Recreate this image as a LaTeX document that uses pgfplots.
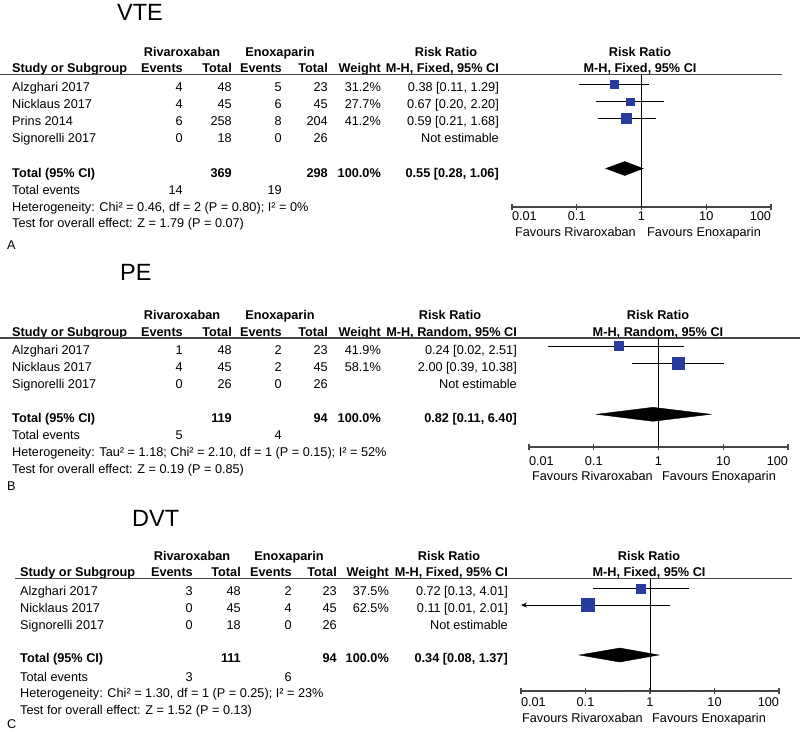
\documentclass[border=0pt]{standalone}
\usepackage{fontspec}
\setmainfont{Liberation Sans}
\usepackage{pgfplots}
\pgfplotsset{compat=1.18}
\usetikzlibrary{arrows.meta}
\definecolor{rmblue}{RGB}{40,60,160}
\definecolor{rulegray}{RGB}{70,70,70}
\newcommand\fs{\fontsize{12.7}{14}\selectfont}
\newcommand\TL[3]{\node[anchor=base west,inner sep=0pt] at (#1pt,-#2pt) {#3};}
\newcommand\TR[3]{\node[anchor=base east,inner sep=0pt] at (#1pt,-#2pt) {#3};}
\newcommand\TC[3]{\node[anchor=base,inner sep=0pt] at (#1pt,-#2pt) {#3};}
\pgfplotsset{fplot/.style={scale only axis, xmin=0.01, xmax=100, clip=false,
  axis x line*=bottom, hide y axis,
  xtick={0.01,0.1,1,10,100}, xticklabels={\rlap{0.01},0.1,1,10,\llap{100}},
  minor xtick={}, tick align=center, major tick length=6pt,
  axis line style={line width=1.2pt, color=rulegray},
  every tick/.style={line width=1.2pt, color=rulegray},
  xticklabel style={anchor=base, inner sep=0pt, font=\fs},
  xticklabel shift=0pt}}
\begin{document}
\begin{tikzpicture}[every node/.style={font=\fs, text=black}]
\useasboundingbox (0,0) rectangle (800pt,-731pt);

% ================= Panel A: VTE =================
\node[anchor=base west,inner sep=0pt,font=\fontsize{23.5}{26}\selectfont] at (117pt,-20pt) {VTE};
\TC{182}{56.5}{\bfseries Rivaroxaban}
\TC{280}{56.5}{\bfseries Enoxaparin}
\TC{446}{56.5}{\bfseries Risk Ratio}
\TC{640}{56.5}{\bfseries Risk Ratio}
\TL{12}{72.5}{\bfseries Study or Subgroup}
\TR{183}{72.5}{\bfseries Events}
\TR{232}{72.5}{\bfseries Total}
\TR{282}{72.5}{\bfseries Events}
\TR{328}{72.5}{\bfseries Total}
\TR{381}{72.5}{\bfseries Weight}
\TR{499}{72.5}{\bfseries M-H, Fixed, 95\% CI}
\TC{640}{72.5}{\bfseries M-H, Fixed, 95\% CI}
\draw[rulegray, line width=1.4pt] (0pt,-74.5pt) -- (782pt,-74.5pt);
\TL{12}{91.5}{Alzghari 2017}\TR{183}{91.5}{4}\TR{232}{91.5}{48}\TR{282}{91.5}{5}\TR{328}{91.5}{23}\TR{381}{91.5}{31.2\%}\TR{499}{91.5}{0.38 [0.11, 1.29]}
\TL{12}{108.5}{Nicklaus 2017}\TR{183}{108.5}{4}\TR{232}{108.5}{45}\TR{282}{108.5}{6}\TR{328}{108.5}{45}\TR{381}{108.5}{27.7\%}\TR{499}{108.5}{0.67 [0.20, 2.20]}
\TL{12}{125.5}{Prins 2014}\TR{183}{125.5}{6}\TR{232}{125.5}{258}\TR{282}{125.5}{8}\TR{328}{125.5}{204}\TR{381}{125.5}{41.2\%}\TR{499}{125.5}{0.59 [0.21, 1.68]}
\TL{12}{142.5}{Signorelli 2017}\TR{183}{142.5}{0}\TR{232}{142.5}{18}\TR{282}{142.5}{0}\TR{328}{142.5}{26}\TR{499}{142.5}{Not estimable}
\TL{12}{177}{\bfseries Total (95\% CI)}\TR{232}{177}{\bfseries 369}\TR{328}{177}{\bfseries 298}\TR{381}{177}{\bfseries 100.0\%}\TR{499}{177}{\bfseries 0.55 [0.28, 1.06]}
\TL{12}{194.5}{Total events}\TR{183}{194.5}{14}\TR{282}{194.5}{19}
\TL{12}{211.5}{Heterogeneity: Chi² = 0.46, df = 2 (P = 0.80); I² = 0\%}
\TL{12}{227.5}{Test for overall effect: Z = 1.79 (P = 0.07)}
\TL{7}{249}{A}
\TR{636}{236.5}{Favours Rivaroxaban}
\TL{647}{236.5}{Favours Enoxaparin}

\begin{semilogxaxis}[fplot, at={(512pt,-207pt)}, anchor=south west, width=259pt, height=132.5pt,
  ymin=-207, ymax=-74.5, xticklabel style={yshift=-10.5pt}]
\addplot[black, line width=0.9pt] coordinates {(1,-74.5) (1,-207)};
\addplot[black, line width=0.7pt] coordinates {(0.11,-84.3) (1.29,-84.3)};
\addplot[black, line width=0.7pt] coordinates {(0.20,-101.5) (2.20,-101.5)};
\addplot[black, line width=0.7pt] coordinates {(0.21,-118.3) (1.68,-118.3)};
\addplot[only marks, mark=square*, mark size=3.65pt, color=rmblue, mark options={draw=none}] coordinates {(0.38,-84.3)};
\addplot[only marks, mark=square*, mark size=3.65pt, color=rmblue, mark options={draw=none}] coordinates {(0.67,-101.5)};
\addplot[only marks, mark=square*, mark size=5pt, color=rmblue, mark options={draw=none}] coordinates {(0.59,-118.3)};
\addplot[fill=black, draw=black] coordinates {(0.28,-168.5) (0.55,-161.5) (1.06,-168.5) (0.55,-175.5)} -- cycle;
\end{semilogxaxis}

% ================= Panel B: PE =================
\node[anchor=base west,inner sep=0pt,font=\fontsize{23.5}{26}\selectfont] at (120pt,-280pt) {PE};
\TC{182}{319}{\bfseries Rivaroxaban}
\TC{280}{319}{\bfseries Enoxaparin}
\TC{450}{319}{\bfseries Risk Ratio}
\TC{658}{319}{\bfseries Risk Ratio}
\TL{12}{336}{\bfseries Study or Subgroup}
\TR{183}{336}{\bfseries Events}
\TR{232}{336}{\bfseries Total}
\TR{282}{336}{\bfseries Events}
\TR{328}{336}{\bfseries Total}
\TR{381}{336}{\bfseries Weight}
\TR{517}{336}{\bfseries M-H, Random, 95\% CI}
\TC{658}{336}{\bfseries M-H, Random, 95\% CI}
\draw[rulegray, line width=1.4pt] (0pt,-338pt) -- (800pt,-338pt);
\TL{12}{354}{Alzghari 2017}\TR{183}{354}{1}\TR{232}{354}{48}\TR{282}{354}{2}\TR{328}{354}{23}\TR{381}{354}{41.9\%}\TR{517}{354}{0.24 [0.02, 2.51]}
\TL{12}{371}{Nicklaus 2017}\TR{183}{371}{4}\TR{232}{371}{45}\TR{282}{371}{2}\TR{328}{371}{45}\TR{381}{371}{58.1\%}\TR{517}{371}{2.00 [0.39, 10.38]}
\TL{12}{388}{Signorelli 2017}\TR{183}{388}{0}\TR{232}{388}{26}\TR{282}{388}{0}\TR{328}{388}{26}\TR{517}{388}{Not estimable}
\TL{12}{422}{\bfseries Total (95\% CI)}\TR{232}{422}{\bfseries 119}\TR{328}{422}{\bfseries 94}\TR{381}{422}{\bfseries 100.0\%}\TR{517}{422}{\bfseries 0.82 [0.11, 6.40]}
\TL{12}{439}{Total events}\TR{183}{439}{5}\TR{282}{439}{4}
\TL{12}{456}{Heterogeneity: Tau² = 1.18; Chi² = 2.10, df = 1 (P = 0.15); I² = 52\%}
\TL{12}{473}{Test for overall effect: Z = 0.19 (P = 0.85)}
\TL{7}{490}{B}
\TR{653}{480}{Favours Rivaroxaban}
\TL{662}{480}{Favours Enoxaparin}

\begin{semilogxaxis}[fplot, at={(529pt,-447pt)}, anchor=south west, width=259pt, height=109pt,
  ymin=-447, ymax=-338, xticklabel style={yshift=-15.5pt}]
\addplot[black, line width=0.9pt] coordinates {(1,-338) (1,-447)};
\addplot[black, line width=0.7pt] coordinates {(0.02,-346) (2.51,-346)};
\addplot[black, line width=0.7pt] coordinates {(0.39,-363.3) (10.38,-363.3)};
\addplot[only marks, mark=square*, mark size=4.5pt, color=rmblue, mark options={draw=none}] coordinates {(0.24,-346)};
\addplot[only marks, mark=square*, mark size=6.2pt, color=rmblue, mark options={draw=none}] coordinates {(2.00,-363.3)};
\addplot[fill=black, draw=black] coordinates {(0.11,-414.3) (0.82,-407.3) (6.40,-414.3) (0.82,-421.3)} -- cycle;
\end{semilogxaxis}

% ================= Panel C: DVT =================
\node[anchor=base west,inner sep=0pt,font=\fontsize{23.5}{26}\selectfont] at (132pt,-526pt) {DVT};
\TC{192}{560.5}{\bfseries Rivaroxaban}
\TC{289}{560.5}{\bfseries Enoxaparin}
\TC{449}{560.5}{\bfseries Risk Ratio}
\TC{649}{560.5}{\bfseries Risk Ratio}
\TL{20}{576}{\bfseries Study or Subgroup}
\TR{193}{576}{\bfseries Events}
\TR{241}{576}{\bfseries Total}
\TR{292}{576}{\bfseries Events}
\TR{337}{576}{\bfseries Total}
\TR{389}{576}{\bfseries Weight}
\TR{508}{576}{\bfseries M-H, Fixed, 95\% CI}
\TC{649}{576}{\bfseries M-H, Fixed, 95\% CI}
\draw[rulegray, line width=1.4pt] (15pt,-578.5pt) -- (792pt,-578.5pt);
\TL{20}{595}{Alzghari 2017}\TR{193}{595}{3}\TR{241}{595}{48}\TR{292}{595}{2}\TR{337}{595}{23}\TR{389}{595}{37.5\%}\TR{508}{595}{0.72 [0.13, 4.01]}
\TL{20}{612}{Nicklaus 2017}\TR{193}{612}{0}\TR{241}{612}{45}\TR{292}{612}{4}\TR{337}{612}{45}\TR{389}{612}{62.5\%}\TR{508}{612}{0.11 [0.01, 2.01]}
\TL{20}{629}{Signorelli 2017}\TR{193}{629}{0}\TR{241}{629}{18}\TR{292}{629}{0}\TR{337}{629}{26}\TR{508}{629}{Not estimable}
\TL{20}{662.5}{\bfseries Total (95\% CI)}\TR{241}{662.5}{\bfseries 111}\TR{337}{662.5}{\bfseries 94}\TR{389}{662.5}{\bfseries 100.0\%}\TR{508}{662.5}{\bfseries 0.34 [0.08, 1.37]}
\TL{20}{681}{Total events}\TR{193}{681}{3}\TR{292}{681}{6}
\TL{20}{697.5}{Heterogeneity: Chi² = 1.30, df = 1 (P = 0.25); I² = 23\%}
\TL{20}{714.5}{Test for overall effect: Z = 1.52 (P = 0.13)}
\TL{7}{728.5}{C}
\TR{643}{722.5}{Favours Rivaroxaban}
\TL{652}{722.5}{Favours Enoxaparin}

\begin{semilogxaxis}[fplot, at={(521pt,-691pt)}, anchor=south west, width=258pt, height=112.5pt,
  ymin=-691, ymax=-578.5, xticklabel style={yshift=-12pt}]
\addplot[black, line width=0.9pt] coordinates {(1,-578.5) (1,-691)};
\addplot[black, line width=0.7pt] coordinates {(0.13,-588.3) (4.01,-588.3)};
\addplot[black, line width=0.7pt, {Stealth[length=6pt,width=5pt]}-] coordinates {(0.01,-605) (2.01,-605)};
\addplot[only marks, mark=square*, mark size=4.5pt, color=rmblue, mark options={draw=none}] coordinates {(0.72,-588.3)};
\addplot[only marks, mark=square*, mark size=6.5pt, color=rmblue, mark options={draw=none}] coordinates {(0.11,-605)};
\addplot[fill=black, draw=black] coordinates {(0.08,-655) (0.34,-648) (1.37,-655) (0.34,-662)} -- cycle;
\end{semilogxaxis}
\end{tikzpicture}
\end{document}
